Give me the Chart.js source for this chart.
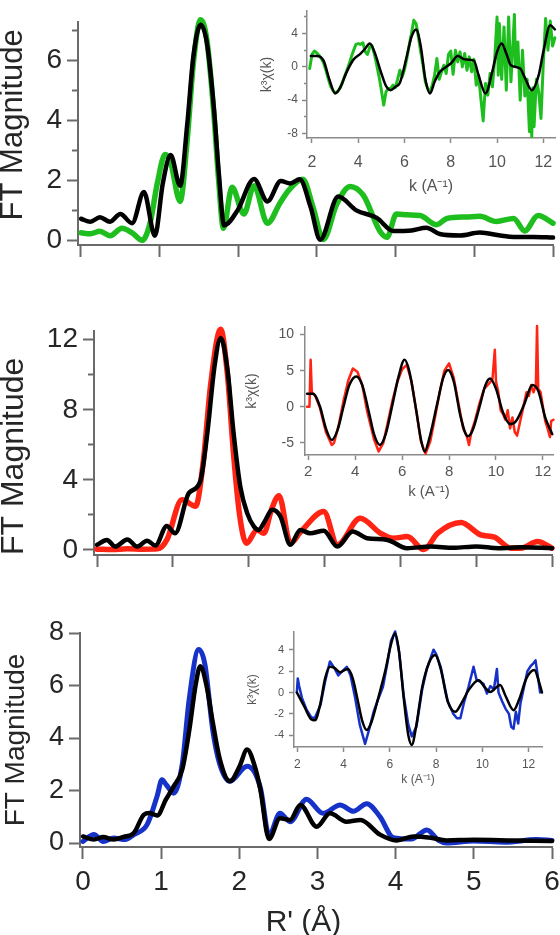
<!DOCTYPE html>
<html lang="en">
<head>
<meta charset="UTF-8">
<title>FT magnitude with k3 chi(k) insets</title>
<script src="https://cdn.jsdelivr.net/npm/chart.js"></script>
<style>
  body { margin: 0; overflow: hidden; background: #fff; }
  #fig { position: relative; width: 560px; height: 935px; overflow: hidden; background: #fff; }
  #fig canvas { position: absolute; }
</style>
</head>
<body>
<div id="fig"></div>
<script>
// ---- panel 1 (green) : R, FT magnitude ----
const r1Exp = [0.00,0.12,0.24,0.37,0.52,0.65,0.78,0.88,0.97,1.07,1.14,1.26,1.35,1.43,1.52,1.60,1.69,1.75,1.81,1.92,2.07,2.20,2.37,2.53,2.65,2.82,2.95,3.08,3.25,3.42,3.59,3.80,3.89,4.01,4.15,4.31,4.52,4.65,4.90,5.07,5.28,5.50,5.64,5.81,6.00];
const m1Exp = [0.25,0.22,0.30,0.15,0.40,0.25,0.00,0.60,1.90,2.87,2.60,1.30,3.34,5.96,7.37,6.70,4.20,2.00,0.40,1.77,0.88,1.82,0.57,1.25,1.70,2.04,1.10,0.03,1.20,1.80,1.50,0.30,0.10,0.88,0.85,0.83,0.52,0.73,0.78,0.80,0.63,0.73,0.31,0.83,0.57];
const r1Fit = [0.00,0.12,0.24,0.37,0.50,0.65,0.80,0.94,1.04,1.14,1.26,1.35,1.43,1.52,1.60,1.69,1.75,1.82,1.99,2.20,2.37,2.54,2.66,2.78,2.92,3.04,3.27,3.50,3.76,3.97,4.20,4.39,4.56,4.82,5.07,5.33,5.50,5.75,6.00];
const m1Fit = [0.72,0.62,0.77,0.62,0.88,0.57,1.61,0.15,1.90,2.85,1.82,3.86,6.17,7.20,6.60,4.40,2.30,0.50,1.00,2.05,1.30,1.98,1.90,2.04,1.10,0.02,1.46,1.00,0.75,0.31,0.33,0.42,0.21,0.16,0.26,0.16,0.11,0.11,0.09];

// ---- panel 2 (red) ----
const r2Exp = [0.00,0.20,0.40,0.60,0.80,0.92,1.12,1.30,1.40,1.50,1.63,1.72,1.80,1.88,1.97,2.11,2.20,2.30,2.40,2.55,2.68,2.99,3.17,3.47,3.74,3.91,4.09,4.31,4.49,4.80,5.06,5.24,5.46,5.59,5.81,6.00];
const m2Exp = [0.04,0.02,0.06,0.04,0.06,0.57,2.86,2.50,5.00,9.50,12.6,10.0,5.50,2.00,0.38,1.14,0.95,2.30,3.10,0.38,1.00,2.19,0.29,1.81,0.95,0.67,0.76,0.02,0.95,1.57,0.86,0.73,0.10,0.10,0.48,0.10];
const r2Fit = [0.00,0.13,0.24,0.40,0.53,0.66,0.77,0.92,1.03,1.21,1.36,1.45,1.55,1.63,1.72,1.80,1.89,1.98,2.07,2.13,2.22,2.31,2.42,2.55,2.68,2.81,2.99,3.17,3.37,3.56,3.83,4.09,4.40,4.70,5.00,5.30,5.60,6.00];
const m2Fit = [0.29,0.57,0.19,0.60,0.19,0.53,0.25,1.37,0.95,3.24,3.90,6.50,10.5,12.1,10.3,6.70,3.60,2.10,1.33,1.14,1.70,2.29,1.90,0.29,1.14,0.95,1.10,0.19,1.05,0.67,0.57,0.10,0.19,0.12,0.20,0.10,0.15,0.10];

// ---- panel 3 (blue) ----
const r3Exp = [0.00,0.14,0.26,0.39,0.54,0.65,0.82,0.95,1.01,1.07,1.16,1.27,1.36,1.48,1.56,1.66,1.75,1.88,2.10,2.27,2.38,2.52,2.65,2.86,3.07,3.29,3.46,3.63,3.80,3.97,4.20,4.40,4.55,4.65,5.00,5.40,5.80,6.00];
const m3Exp = [0.06,0.32,0.06,0.19,0.13,0.32,0.70,1.80,2.41,2.20,1.90,3.00,5.50,7.37,6.80,4.30,3.00,2.35,2.92,2.10,0.30,1.13,0.81,1.67,1.13,1.45,1.21,1.50,1.00,0.20,0.15,0.50,0.10,0.00,0.08,0.03,0.13,0.10];
const r3Fit = [0.00,0.14,0.26,0.39,0.52,0.65,0.78,0.85,0.95,1.06,1.16,1.27,1.36,1.44,1.50,1.58,1.66,1.75,1.88,2.00,2.10,2.20,2.27,2.38,2.52,2.65,2.78,2.99,3.16,3.37,3.55,3.80,4.01,4.23,4.45,4.65,5.00,5.50,6.00];
const m3Fit = [0.25,0.13,0.23,0.13,0.23,0.38,1.08,1.14,1.05,1.65,2.16,2.80,4.30,6.00,6.73,6.00,4.60,3.20,2.35,2.90,3.56,2.90,2.03,0.15,0.94,0.88,1.45,0.62,1.13,0.81,0.88,0.32,0.10,0.25,0.20,0.10,0.12,0.10,0.08];

// ---- inset 1 : k, k^3 chi(k) ----
const k1Exp = [1.9,2.0,2.1,2.2,2.3,2.4,2.5,2.6,2.7,2.8,2.9,3.0,3.1,3.2,3.3,3.4,3.5,3.6,3.7,3.8,3.9,4.0,4.1,4.2,4.3,4.4,4.5,4.6,4.7,4.8,4.9,5.0,5.1,5.2,5.3,5.4,5.5,5.6,5.7,5.8,5.9,6.0,6.1,6.2,6.3,6.4,6.5,6.6,6.7,6.8,6.9,7.0,7.1,7.2,7.3,7.4,7.5,7.6,7.7,7.8,7.9,8.0,8.1,8.2,8.3,8.4,8.5,8.6,8.7,8.8,8.9,9.0,9.1,9.2,9.3,9.4,9.5,9.6,9.7,9.8,9.9,10.0,10.05,10.1,10.2,10.3,10.4,10.5,10.6,10.7,10.75,10.8,10.9,11.0,11.1,11.2,11.3,11.4,11.45,11.5,11.55,11.6,11.7,11.8,11.9,12.0,12.1,12.2,12.3,12.4,12.5];
const c1Exp = [-0.2,1.5,1.9,1.7,1.4,1.0,0.5,-0.4,-1.4,-2.3,-2.8,-3.1,-3.0,-2.6,-2.0,-1.2,-0.5,0.3,1.2,2.0,2.7,2.8,2.7,2.9,1.8,1.5,2.4,2.5,1.5,0.2,-1.2,-2.8,-4.6,-3.0,-2.6,-2.6,-2.2,-2.5,-1.5,-0.4,-1.2,-0.3,1.0,2.6,4.0,5.6,5.2,3.6,1.8,0.2,-1.8,-2.6,-3.0,-2.2,-1.0,1.0,-1.5,-0.6,0.2,-0.8,1.5,1.9,-0.9,2.0,0.6,1.8,0.0,1.6,-0.4,1.2,-0.6,0.9,-2.2,-1.0,-3.8,-6.5,-2.0,-3.4,-0.8,-2.4,1.0,6.0,-1.0,5.2,-1.5,4.8,-2.8,6.0,-1.8,3.5,6.3,0.0,3.0,-4.0,2.0,-3.5,-1.5,-7.8,-3.0,-8.4,-2.5,-7.2,-1.5,-3.0,-6.2,0.5,5.8,2.0,5.5,2.5,3.5];
const k1Fit = [1.95,2.2,2.5,2.75,3.0,3.2,3.5,3.8,4.1,4.3,4.5,4.7,5.0,5.2,5.4,5.6,5.8,6.1,6.3,6.5,6.7,6.9,7.1,7.3,7.5,7.8,8.0,8.3,8.6,9.0,9.2,9.5,9.8,10.0,10.2,10.4,10.6,11.0,11.2,11.5,11.8,12.0,12.3,12.5];
const c1Fit = [1.3,1.3,0.75,-1.5,-3.2,-2.6,-0.6,0.9,1.6,2.2,2.8,1.8,-0.8,-2.3,-2.8,-2.4,-1.9,1.3,3.6,4.5,2.5,-1.5,-3.2,-1.8,-0.7,0.0,0.4,1.3,0.9,0.75,-1.0,-3.2,-0.5,1.8,2.8,1.6,0.2,-0.2,-1.3,-2.8,-1.0,1.8,5.0,4.5];

// ---- inset 2 ----
const k2Exp = [1.95,2.05,2.1,2.15,2.3,2.5,2.75,3.0,3.1,3.3,3.5,3.7,3.9,4.1,4.3,4.5,4.8,5.0,5.2,5.4,5.6,5.8,6.0,6.2,6.4,6.6,6.8,7.0,7.2,7.4,7.6,7.8,8.0,8.2,8.4,8.6,8.75,8.85,8.95,9.1,9.3,9.5,9.7,9.85,9.95,10.0,10.1,10.2,10.3,10.4,10.5,10.6,10.7,10.8,10.9,11.0,11.1,11.2,11.3,11.4,11.5,11.6,11.7,11.75,11.8,11.9,12.0,12.1,12.2,12.3,12.35,12.45];
const c2Exp = [0.0,0.0,6.5,2.0,1.5,-0.2,-3.5,-5.3,-5.0,-2.5,0.8,3.6,5.3,4.8,3.0,-0.5,-4.5,-6.2,-5.0,-2.0,1.0,3.5,5.2,5.8,3.5,-0.5,-4.8,-6.5,-4.8,-1.5,2.0,5.0,6.0,4.0,0.5,-3.0,-4.0,-5.3,-3.5,-2.0,0.5,2.5,3.2,3.8,7.9,3.5,2.0,-0.5,-1.0,-1.8,-0.5,-3.0,-1.5,-3.5,-4.0,-2.5,-1.0,0.5,2.0,1.5,3.0,2.0,3.0,11.2,2.5,2.0,0.0,-2.0,-3.0,-4.2,-2.0,-1.8];
const k2Fit = [1.95,2.2,2.5,2.75,3.0,3.25,3.5,3.75,4.05,4.3,4.6,4.8,5.05,5.3,5.6,5.85,6.1,6.3,6.6,6.8,6.96,7.15,7.5,7.75,7.96,8.2,8.5,8.8,9.0,9.3,9.55,9.75,10.0,10.3,10.6,10.85,11.2,11.55,11.8,12.1,12.4];
const c2Fit = [1.8,1.8,0.0,-3.0,-4.6,-3.2,0.0,3.0,4.2,3.0,-1.0,-3.8,-5.3,-3.8,0.5,4.2,6.5,5.0,-0.5,-4.5,-6.2,-4.5,0.5,4.0,5.1,3.5,-1.5,-4.1,-3.3,0.0,3.0,3.9,2.5,-0.8,-2.4,-2.0,0.3,3.0,2.2,-1.5,-3.8];

// ---- inset 3 ----
const k3Exp = [1.98,2.02,2.08,2.2,2.4,2.6,2.75,3.0,3.2,3.41,3.6,3.77,3.95,4.14,4.3,4.5,4.7,4.93,5.1,5.3,5.5,5.7,5.9,6.05,6.23,6.4,6.6,6.8,6.95,7.15,7.4,7.6,7.89,8.0,8.2,8.5,8.75,8.9,9.05,9.2,9.4,9.62,9.75,9.9,10.05,10.2,10.35,10.5,10.63,10.7,10.85,11.0,11.15,11.25,11.35,11.45,11.55,11.65,11.8,11.95,12.1,12.2,12.3,12.4,12.5];
const c3Exp = [0.0,1.3,0.6,-0.5,-1.6,-2.3,-2.4,-1.2,1.0,2.9,2.3,1.6,2.0,2.4,1.6,-0.5,-3.0,-4.8,-3.5,-1.8,-0.6,0.5,2.8,4.8,5.7,3.8,-0.3,-3.0,-4.1,-3.2,0.3,2.2,4.0,3.6,2.4,-0.8,-2.0,-2.4,-2.4,-1.0,0.5,2.4,1.2,1.0,0.8,-0.1,0.6,0.3,2.2,0.0,-0.8,-1.5,-2.0,-3.2,-3.4,-1.8,-2.9,-1.0,0.5,2.0,2.5,2.7,3.0,1.5,0.0];
const k3Fit = [1.98,2.3,2.6,2.76,3.0,3.2,3.41,3.6,3.85,4.05,4.2,4.4,4.6,4.8,5.0,5.2,5.5,5.8,6.05,6.23,6.4,6.6,6.8,6.95,7.15,7.4,7.7,7.96,8.2,8.5,8.83,9.1,9.4,9.84,10.1,10.34,10.77,11.0,11.35,11.6,11.9,12.25,12.45,12.58];
const c3Fit = [0.0,-1.3,-2.5,-2.6,-1.0,1.3,2.4,2.3,1.9,2.1,2.2,1.3,-0.6,-2.6,-3.5,-2.8,-0.5,2.0,4.5,5.5,3.8,-0.5,-4.0,-4.9,-3.0,0.5,2.8,3.5,2.2,-0.8,-1.8,-1.0,0.2,1.15,0.5,0.05,0.7,-0.3,-1.65,-0.6,1.3,2.1,1.0,0.0];

// ---- ticks ----
const rTicks = [0, 1, 2, 3, 4, 5, 6];
const kTicks = [2, 4, 6, 8, 10, 12];
const y1Major = [0, 2, 4, 6], y1Minor = [1, 3, 5, 7];
const y2Major = [0, 4, 8, 12], y2Minor = [2, 6, 10];
const y3Major = [0, 2, 4, 6, 8];
const i1Major = [-8, -4, 0, 4], i1Minor = [-6, -2, 2, 6];
const i2Major = [-5, 0, 5, 10];
const i3Major = [-4, -2, 0, 2, 4];

const GREEN = '#1fbe1f', RED = '#ff2414', BLUE = '#1632c8';
const FONT = "'Liberation Sans', Arial, sans-serif";
const fig = document.getElementById('fig');

function pts(xs, ys) { return xs.map((x, i) => ({ x: x, y: ys[i] })); }

function line(xs, ys, color, width, smooth) {
  return {
    data: pts(xs, ys), borderColor: color, borderWidth: width, pointRadius: 0,
    fill: false, yAxisID: 'y', xAxisID: 'x', clip: 8,
    tension: 0, cubicInterpolationMode: smooth ? 'monotone' : 'default',
    borderJoinStyle: 'round', borderCapStyle: 'round'
  };
}

function fixed(list) { return s => { s.ticks = list.map(v => ({ value: v })); }; }

// c: canvas box (page px), a: chart area (page px)
function panel(c, a, sets, o) {
  const cv = document.createElement('canvas');
  cv.width = c.w; cv.height = c.h;
  cv.style.left = c.left + 'px'; cv.style.top = c.top + 'px';
  fig.appendChild(cv);
  const yW = a.left - c.left, xH = c.top + c.h - a.bottom;
  const scales = {
    x: {
      type: 'linear', position: 'bottom', min: o.x[0], max: o.x[1],
      afterBuildTicks: fixed(o.xTicks), afterFit: s => { s.height = xH; },
      grid: { drawOnChartArea: false, drawTicks: true, tickLength: o.xTickLen, tickWidth: o.lw, tickColor: o.axisColor },
      border: { display: true, color: o.axisColor, width: o.lw },
      ticks: { display: !!o.xFont, autoSkip: false, maxRotation: 0, padding: o.xPad || 0,
               color: o.textColor, font: { family: FONT, size: o.xFont || 10 } },
      title: o.xTitle ? { display: true, text: o.xTitle.text, color: o.textColor,
               font: { family: FONT, size: o.xTitle.size, lineHeight: o.xTitle.lh },
               padding: { top: 0, bottom: o.xTitle.pad } } : { display: false }
    },
    y: {
      type: 'linear', axis: 'y', position: 'left', weight: 1, min: o.y[0], max: o.y[1],
      afterBuildTicks: fixed(o.yMajor), afterFit: s => { s.width = yW; },
      grid: { drawOnChartArea: false, drawTicks: true, tickLength: o.yTickLen, tickWidth: o.lw, tickColor: o.axisColor },
      border: { display: true, color: o.axisColor, width: o.lw },
      ticks: { autoSkip: false, padding: o.yPad, color: o.textColor, font: { family: FONT, size: o.yFont } },
      title: { display: true, text: o.yTitle.text, color: o.textColor,
               font: { family: FONT, size: o.yTitle.size, lineHeight: o.yTitle.lh },
               padding: { top: o.yTitle.pad, bottom: 0 } }
    }
  };
  if (o.yMinor) {
    scales.yMinor = {
      type: 'linear', axis: 'y', position: 'left', weight: 0, min: o.y[0], max: o.y[1],
      afterBuildTicks: fixed(o.yMinor), afterFit: s => { s.width = 0; },
      grid: { drawOnChartArea: false, drawTicks: true, tickLength: o.minorLen, tickWidth: o.lw, tickColor: o.axisColor },
      border: { display: false },
      ticks: { display: false }
    };
  }
  new Chart(cv, {
    type: 'line',
    data: { datasets: sets },
    options: {
      responsive: false, animation: false, devicePixelRatio: 1,
      layout: { padding: { left: 0, bottom: 0, top: a.top - c.top, right: c.left + c.w - a.right } },
      plugins: { legend: { display: false }, tooltip: { enabled: false } },
      scales: scales
    }
  });
}

const mainStyle = { axisColor: '#6a6a6a', textColor: '#262626', lw: 2, xTickLen: 12, yTickLen: 11, minorLen: 6, yPad: 5, yFont: 28, xTicks: rTicks };
const insetStyle = { axisColor: '#8a8a8a', textColor: '#555', lw: 1.5, xTickLen: 5, yTickLen: 5, minorLen: 3, xTicks: kTicks };

// main panels
panel({ left: 0, top: 0, w: 600, h: 300 }, { left: 78, right: 553, top: 7, bottom: 245 },
  [line(r1Fit, m1Fit, '#000', 4.5, true), line(r1Exp, m1Exp, GREEN, 5.5, true)],
  Object.assign({}, mainStyle, { x: [-0.038, 6], y: [-0.157, 7.3], yMajor: y1Major, yMinor: y1Minor,
    yTitle: { text: '  FT Magnitude', size: 31, lh: 0.9, pad: 0 } }));

panel({ left: 0, top: 300, w: 600, h: 300 }, { left: 94, right: 552, top: 331, bottom: 555 },
  [line(r2Fit, m2Fit, '#000', 4.5, true), line(r2Exp, m2Exp, RED, 5.5, true)],
  Object.assign({}, mainStyle, { x: [-0.04, 6], y: [-0.29, 12.5], yMajor: y2Major, yMinor: y2Minor,
    yTitle: { text: 'FT Magnitude   ', size: 32, lh: 0.9, pad: 0 } }));

panel({ left: 0, top: 600, w: 600, h: 335 }, { left: 80, right: 552, top: 633, bottom: 847 },
  [line(r3Fit, m3Fit, '#000', 4.5, true), line(r3Exp, m3Exp, BLUE, 5, true)],
  Object.assign({}, mainStyle, { x: [-0.038, 6], y: [-0.152, 8.0], yMajor: y3Major, yFont: 27,
    xFont: 28, xPad: 6,
    xTitle: { text: "R' (Å)   ", size: 30, lh: 0.8, pad: 0 },
    yTitle: { text: 'FT Magnitude', size: 28, lh: 1.15, pad: 0 } }));

// insets
panel({ left: 240, top: 0, w: 330, h: 200 }, { left: 307, right: 555, top: 2, bottom: 138 },
  [line(k1Fit, c1Fit, '#000', 2.5, true), line(k1Exp, c1Exp, GREEN, 3, false)],
  Object.assign({}, insetStyle, { x: [1.784, 12.505], y: [-8.55, 6.69], yMajor: i1Major, yMinor: i1Minor,
    yFont: 12, yPad: 4, xFont: 16, xPad: 10,
    xTitle: { text: 'k (A\u207B\u00B9)', size: 16, lh: 1.2, pad: 3.4 },
    yTitle: { text: 'k\u00B3\u03C7(k)', size: 14, lh: 1.2, pad: 18.6 } }));

panel({ left: 240, top: 300, w: 330, h: 200 }, { left: 305, right: 553, top: 327, bottom: 455 },
  [line(k2Fit, c2Fit, '#000', 2.5, true), line(k2Exp, c2Exp, RED, 2.5, false)],
  Object.assign({}, insetStyle, { x: [1.86, 12.43], y: [-6.69, 11.05], yMajor: i2Major,
    yFont: 14, yPad: 6, xFont: 15, xPad: 3,
    xTitle: { text: 'k (A\u207B\u00B9)', size: 15, lh: 1, pad: 0.5 },
    yTitle: { text: 'k\u00B3\u03C7(k)', size: 14, lh: 1.2, pad: 3.6 } }));

panel({ left: 240, top: 600, w: 330, h: 200 }, { left: 294, right: 542, top: 632, bottom: 747 },
  [line(k3Fit, c3Fit, '#000', 2.5, true), line(k3Exp, c3Exp, BLUE, 2.5, false)],
  Object.assign({}, insetStyle, { x: [1.857, 12.58], y: [-5.09, 5.65], yMajor: i3Major,
    yFont: 11, yPad: 5, xFont: 12, xPad: 5,
    xTitle: { text: 'k (A\u207B\u00B9)', size: 12, lh: 1.2, pad: 12.8 },
    yTitle: { text: 'k\u00B3\u03C7(k)', size: 12, lh: 1.2, pad: 5.8 } }));
</script>
</body>
</html>
